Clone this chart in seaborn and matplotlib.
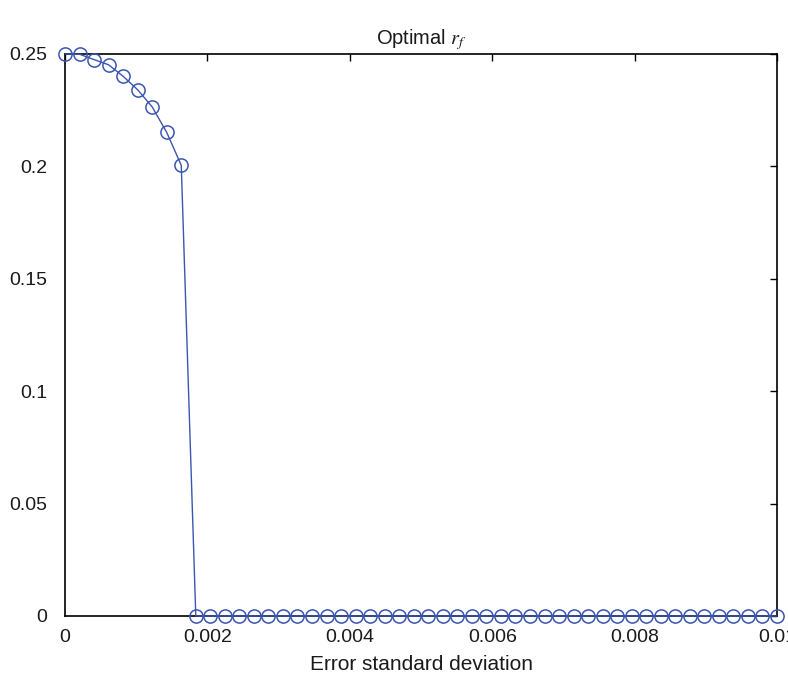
import matplotlib
matplotlib.use("Agg")
import matplotlib.pyplot as plt
import seaborn as sns
import pandas as pd
from matplotlib.ticker import FuncFormatter

error_sd = [0.0, 0.000204, 0.000408, 0.000612, 0.000816, 0.001020, 0.001224, 0.001429,
            0.001633, 0.001837, 0.002041, 0.002245, 0.002449, 0.002653, 0.002857, 0.003061,
            0.003265, 0.003469, 0.003673, 0.003878, 0.004082, 0.004286, 0.004490, 0.004694,
            0.004898, 0.005102, 0.005306, 0.005510, 0.005714, 0.005918, 0.006122, 0.006327,
            0.006531, 0.006735, 0.006939, 0.007143, 0.007347, 0.007551, 0.007755, 0.007959,
            0.008163, 0.008367, 0.008571, 0.008776, 0.008980, 0.009184, 0.009388, 0.009592,
            0.009796, 0.010000]
optimal_rf = [0.25, 0.2499, 0.2475, 0.2452, 0.2401, 0.2341, 0.2265, 0.2151, 0.2005,
              0.0, 0.0, 0.0, 0.0, 0.0, 0.0, 0.0, 0.0, 0.0, 0.0, 0.0,
              0.0, 0.0, 0.0, 0.0, 0.0, 0.0, 0.0, 0.0, 0.0, 0.0,
              0.0, 0.0, 0.0, 0.0, 0.0, 0.0, 0.0, 0.0, 0.0, 0.0,
              0.0, 0.0, 0.0, 0.0, 0.0, 0.0, 0.0, 0.0, 0.0, 0.0]
x_ticks = [0, 0.002, 0.004, 0.006, 0.008, 0.01]
y_ticks = [0, 0.05, 0.1, 0.15, 0.2, 0.25]

sns.set_style("white")
plt.rcParams['font.family'] = ['Liberation Sans', 'DejaVu Sans']
plt.rcParams['mathtext.fontset'] = 'stix'

df = pd.DataFrame({"x": error_sd, "y": optimal_rf})
color = "#3a56b0"

fig = plt.figure(figsize=(7.88, 6.81), dpi=100)
ax = fig.add_axes([65/788, 1 - 616/681, (777 - 65)/788, (616 - 54)/681])

sns.lineplot(data=df, x="x", y="y", ax=ax, color=color, linewidth=1.0,
             marker="o", markersize=9.5, markerfacecolor="none",
             markeredgecolor=color, markeredgewidth=1.1, clip_on=False, zorder=3)

ax.set_xlim(0, 0.01)
ax.set_ylim(0, 0.25)
ax.set_xticks(x_ticks)
ax.set_yticks(y_ticks)
fmt = FuncFormatter(lambda v, p: "%g" % v)
ax.xaxis.set_major_formatter(fmt)
ax.yaxis.set_major_formatter(fmt)
ax.tick_params(direction="in", length=5, width=1, top=True, right=True,
               labeltop=False, labelright=False, labelsize=14, colors="black",
               labelcolor="#1a1a1a")
ax.tick_params(axis="y", pad=13)
ax.tick_params(axis="x", pad=9)
for s in ax.spines.values():
    s.set_color("black")
    s.set_linewidth(1.2)

ax.set_xlabel("Error standard deviation", fontsize=15, labelpad=7, color="#1a1a1a")
ax.set_ylabel("")
ax.set_title(r"Optimal $r_f$", fontsize=14.5, pad=7, color="#1a1a1a")

fig.savefig("out.png", dpi=100)
